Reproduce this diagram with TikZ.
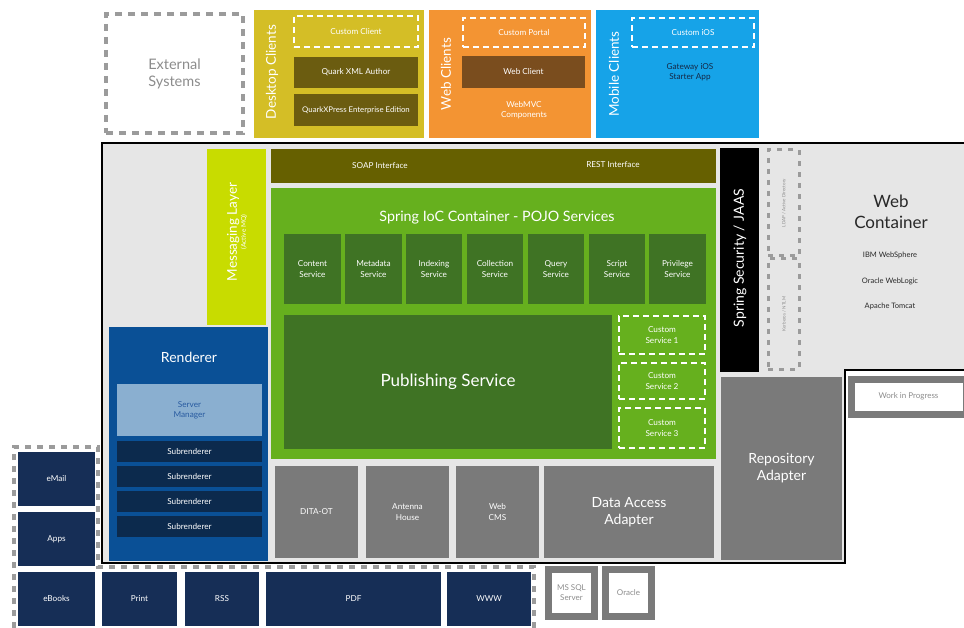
\documentclass[tikz,border=0pt]{standalone}
\usepackage{fontspec}
\setmainfont{Lato}
\definecolor{mustard}{RGB}{212,190,38}
\definecolor{olivedark}{RGB}{107,92,16}
\definecolor{orangec}{RGB}{243,148,51}
\definecolor{brownc}{RGB}{122,77,30}
\definecolor{sky}{RGB}{22,163,232}
\definecolor{bggrey}{RGB}{230,230,230}
\definecolor{lime}{RGB}{200,220,0}
\definecolor{olivebar}{RGB}{102,96,0}
\definecolor{greenc}{RGB}{102,176,30}
\definecolor{dkgreen}{RGB}{63,115,36}
\definecolor{greybox}{RGB}{122,122,122}
\definecolor{rblue}{RGB}{10,80,150}
\definecolor{smblue}{RGB}{138,175,208}
\definecolor{smtext}{RGB}{40,90,160}
\definecolor{subr}{RGB}{12,42,77}
\definecolor{navyout}{RGB}{22,46,86}
\definecolor{dashgrey}{RGB}{155,155,155}
\definecolor{textgrey}{RGB}{140,140,140}
\definecolor{navytext}{RGB}{20,40,70}
\definecolor{wctext}{RGB}{40,40,40}
\newcommand\bx[7]{\node[inner sep=0pt, outer sep=0pt, anchor=north west,
  minimum width={(#4)-(#2)}, minimum height={(#5)-(#3)}, #6] (#1) at (#2,#3) {#7};}
\begin{document}
\begin{tikzpicture}[x=1pt,y=-1pt,
  small/.style={font=\fontsize{8.2}{10.2}\selectfont, text=white, align=center},
  tiny/.style={font=\fontsize{4.5}{5}\selectfont, text=textgrey},
  dbox/.style={draw=white, line width=1.3pt, dash pattern=on 6pt off 4pt},
  vlabel/.style={rotate=90, text=white, font=\fontsize{13.5}{15}\selectfont},
  mid/.style={font=\fontsize{14}{17}\selectfont, text=white, align=center},
  gbox/.style={fill=greybox},
  outbox/.style={fill=navyout, small},
  dbframe/.style={draw=greybox, line width=7pt, fill=white, font=\fontsize{8}{10}\selectfont, text=textgrey, align=center}]
\useasboundingbox (0,0) rectangle (964,628);

% External systems
\bx{ext}{106}{14}{243}{133}{draw=dashgrey, line width=4.5pt, dash pattern=on 7pt off 6pt, text=textgrey, font=\fontsize{14.5}{17}\selectfont, align=center}{External\\Systems}

% Desktop clients
\bx{desk}{254}{10}{424}{138}{fill=mustard}{}
\node[vlabel] (deskl) at (272,72) {Desktop Clients};
\bx{cc}{294}{16}{418}{47}{dbox, small}{Custom Client}
\bx{qxa}{294}{57}{418}{88}{fill=olivedark, small}{Quark XML Author}
\bx{qxp}{294}{94}{418}{126}{fill=olivedark, small, font=\fontsize{7.8}{9}\selectfont}{QuarkXPress Enterprise Edition}

% Web clients
\bx{webc}{429}{10}{591}{138}{fill=orangec}{}
\node[vlabel] (webl) at (446,74) {Web Clients};
\bx{cp}{463}{18}{585}{47}{dbox, small}{Custom Portal}
\bx{wcl}{462}{56}{585}{88}{fill=brownc, small}{Web Client}
\node[small] (mvc) at (524,110) {WebMVC\\Components};

% Mobile clients
\bx{mob}{596}{10}{759}{138}{fill=sky}{}
\node[vlabel] (mobl) at (614,74) {Mobile Clients};
\bx{ci}{632}{18}{754}{47}{dbox, small}{Custom iOS}
\node[small, text=navytext] (gw) at (690,72) {Gateway iOS\\Starter App};

% Main frame
\draw[line width=1.6pt, fill=bggrey] (102,143) -- (966,143) -- (966,370) -- (845,370) -- (845,563) -- (102,563) -- cycle;

% Messaging layer
\bx{msg}{207}{149}{266}{325}{fill=lime}{}
\node[rotate=90, text=white, align=center] (msgl) at (237,232)
  {{\fontsize{13.5}{14}\selectfont Messaging Layer}\\[-3pt]{\fontsize{6.5}{7}\selectfont (Active MQ)}};

% Interfaces
\bx{iface}{271}{149}{716}{183}{fill=olivebar}{}
\node[small] (soap) at (380,166) {SOAP Interface};
\node[small] (rest) at (613,165) {REST Interface};

% Spring IoC
\bx{ioc}{271}{188}{716}{459}{fill=greenc}{}
\node[font=\fontsize{14.3}{16}\selectfont, text=white] (iocl) at (497,218) {Spring IoC Container - POJO Services};
\bx{s1}{284}{234}{341}{304}{fill=dkgreen, small}{Content\\Service}
\bx{s2}{345}{234}{402}{304}{fill=dkgreen, small}{Metadata\\Service}
\bx{s3}{406}{234}{462}{304}{fill=dkgreen, small}{Indexing\\Service}
\bx{s4}{467}{234}{523}{304}{fill=dkgreen, small}{Collection\\Service}
\bx{s5}{528}{234}{584}{304}{fill=dkgreen, small}{Query\\Service}
\bx{s6}{589}{234}{645}{304}{fill=dkgreen, small}{Script\\Service}
\bx{s7}{649}{234}{706}{304}{fill=dkgreen, small}{Privilege\\Service}
\bx{pub}{284}{315}{612}{449}{fill=dkgreen, text=white, font=\fontsize{17}{19}\selectfont}{Publishing Service}
\bx{cs1}{619}{316}{705}{354}{dbox, small}{Custom\\Service 1}
\bx{cs2}{619}{363}{705}{399}{dbox, small}{Custom\\Service 2}
\bx{cs3}{619}{408}{705}{448}{dbox, small}{Custom\\Service 3}

% Grey adapters
\bx{dita}{275}{466}{358}{558}{gbox, small}{DITA-OT}
\bx{ant}{366}{466}{449}{558}{gbox, small}{Antenna\\House}
\bx{wcms}{456}{466}{539}{558}{gbox, small}{Web\\CMS}
\bx{daa}{544}{466}{714}{558}{gbox, mid}{Data Access\\Adapter}
\bx{repo}{721}{377}{842}{560}{gbox, mid}{Repository\\Adapter}

% Security
\bx{sec}{720}{148}{759}{372}{fill=black}{}
\node[vlabel, font=\fontsize{14}{15}\selectfont] (secl) at (740,258) {Spring Security / JAAS};
\bx{ldap}{768}{150}{799}{256}{draw=dashgrey, line width=3pt, dash pattern=on 5pt off 6pt}{}
\bx{kerb}{768}{259}{799}{369}{draw=dashgrey, line width=3pt, dash pattern=on 5pt off 6pt}{}
\node[tiny, rotate=90] (ldapl) at (784,203) {LDAP / Active Directory};
\node[tiny, rotate=90] (kerbl) at (784,314) {Kerberos / NTLM};

% Web container
\node[font=\fontsize{17}{21}\selectfont, text=wctext, align=center] (wcon) at (891,212) {Web\\Container};
\node[font=\fontsize{7.5}{9}\selectfont, text=wctext] (ibm) at (890,255) {IBM WebSphere};
\node[font=\fontsize{7.5}{9}\selectfont, text=wctext] (orwl) at (890,281) {Oracle WebLogic};
\node[font=\fontsize{7.5}{9}\selectfont, text=wctext] (tom) at (890,306) {Apache Tomcat};

% Work in progress
\bx{wip}{851}{379}{966}{414}{dbframe}{Work in Progress}

% Renderer
\bx{rend}{109}{327}{268}{561}{fill=rblue}{}
\node[font=\fontsize{14}{16}\selectfont, text=white] (rendl) at (189,357) {Renderer};
\bx{sm}{117}{384}{262}{436}{fill=smblue, small, text=smtext}{Server\\Manager}
\bx{sr1}{117}{441}{262}{462}{fill=subr, small}{Subrenderer}
\bx{sr2}{117}{466}{262}{487}{fill=subr, small}{Subrenderer}
\bx{sr3}{117}{491}{262}{512}{fill=subr, small}{Subrenderer}
\bx{sr4}{117}{516}{262}{537}{fill=subr, small}{Subrenderer}

% Output channels
\draw[draw=dashgrey, line width=4pt, dash pattern=on 6pt off 6pt] (14,628) -- (14,447) -- (98,447) -- (98,567) -- (534,567) -- (534,628);
\bx{email}{18}{452}{95}{506}{outbox}{eMail}
\bx{apps}{18}{512}{95}{566}{outbox}{Apps}
\bx{ebooks}{18}{572}{95}{626}{outbox}{eBooks}
\bx{print}{102}{572}{177}{626}{outbox}{Print}
\bx{rss}{185}{572}{259}{626}{outbox}{RSS}
\bx{pdf}{266}{572}{441}{626}{outbox}{PDF}
\bx{www}{447}{572}{531}{626}{outbox}{WWW}

% Databases
\bx{mssql}{548.5}{569.5}{594.5}{616.5}{dbframe}{MS SQL\\Server}
\bx{oracle}{605.5}{569.5}{651.5}{616.5}{dbframe}{Oracle}
\end{tikzpicture}
\end{document}
